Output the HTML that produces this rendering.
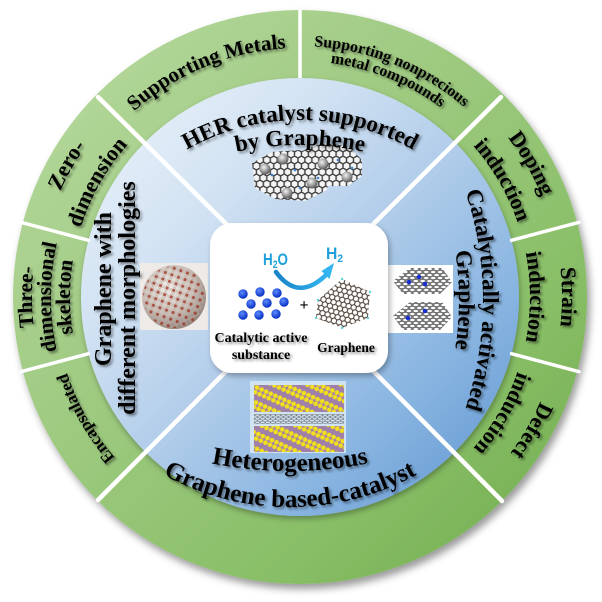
<!DOCTYPE html>
<html><head><meta charset="utf-8">
<style>
html,body{margin:0;padding:0;background:#fff;}
svg{display:block;}
.t{font-family:"Liberation Serif","Times New Roman",serif;font-weight:bold;fill:#000;}
</style></head><body>
<svg width="602" height="602" viewBox="0 0 602 602" xmlns="http://www.w3.org/2000/svg" xmlns:xlink="http://www.w3.org/1999/xlink">
<defs>
 <linearGradient id="gGreen" x1="0" y1="0" x2="1" y2="1">
  <stop offset="0" stop-color="#badca3"/>
  <stop offset="0.28" stop-color="#a7cf8b"/>
  <stop offset="0.73" stop-color="#88be66"/>
  <stop offset="1" stop-color="#6ea94b"/>
 </linearGradient>
 <linearGradient id="gBlue" x1="0" y1="0" x2="1" y2="1">
  <stop offset="0" stop-color="#edf4fb"/>
  <stop offset="0.28" stop-color="#d3e3f3"/>
  <stop offset="0.5" stop-color="#b2cdea"/>
  <stop offset="0.73" stop-color="#89b5e1"/>
  <stop offset="1" stop-color="#5d93cf"/>
 </linearGradient>
 <radialGradient id="gDot" cx="0.4" cy="0.35" r="0.6">
  <stop offset="0" stop-color="#5d8dff"/>
  <stop offset="1" stop-color="#0b33c4"/>
 </radialGradient>
 <radialGradient id="gBall" cx="0.4" cy="0.35" r="0.65">
  <stop offset="0" stop-color="#f2f2f2"/>
  <stop offset="0.6" stop-color="#9a9a9a"/>
  <stop offset="1" stop-color="#5a5a5a"/>
 </radialGradient>
 <radialGradient id="gSphere" cx="0.4" cy="0.35" r="0.7">
  <stop offset="0" stop-color="#f3eeea"/>
  <stop offset="0.6" stop-color="#cbbfb8"/>
  <stop offset="1" stop-color="#8a7b73"/>
 </radialGradient>
 <linearGradient id="gArrow" x1="0" y1="0" x2="1" y2="0">
  <stop offset="0" stop-color="#1784c8"/>
  <stop offset="1" stop-color="#33b4ee"/>
 </linearGradient>
 <filter id="ringShadow" x="-10%" y="-10%" width="125%" height="125%">
  <feDropShadow dx="3" dy="5" stdDeviation="4" flood-color="#000" flood-opacity="0.4"/>
 </filter>
 <filter id="blueShadow" x="-10%" y="-10%" width="125%" height="125%">
  <feDropShadow dx="1" dy="3" stdDeviation="3" flood-color="#000" flood-opacity="0.3"/>
 </filter>
 <filter id="boxShadow" x="-15%" y="-15%" width="135%" height="135%">
  <feDropShadow dx="2" dy="3" stdDeviation="3" flood-color="#000" flood-opacity="0.3"/>
 </filter>
 <filter id="ts" x="-5%" y="-5%" width="110%" height="110%">
  <feDropShadow dx="2" dy="2" stdDeviation="1.2" flood-color="#000" flood-opacity="0.45"/>
 </filter>
 <pattern id="hexD" width="6.93" height="12" patternUnits="userSpaceOnUse">
  <rect width="6.93" height="12" fill="#f4f4f4"/>
  <path d="M3.46,0 L6.93,2 L6.93,6 L3.46,8 L0,6 L0,2 Z M3.46,8 L3.46,12" fill="none" stroke="#404040" stroke-width="1.4"/>
 </pattern>
 <pattern id="hexC" width="5.2" height="9" patternUnits="userSpaceOnUse" patternTransform="rotate(15)">
  <path d="M2.6,0 L5.2,1.5 L5.2,4.5 L2.6,6 L0,4.5 L0,1.5 Z M2.6,6 L2.6,9" fill="none" stroke="#4d4035" stroke-width="1.1"/>
 </pattern>
 <pattern id="hexG" width="5.2" height="9" patternUnits="userSpaceOnUse" patternTransform="scale(1,0.4)">
  <path d="M2.6,0 L5.2,1.5 L5.2,4.5 L2.6,6 L0,4.5 L0,1.5 Z M2.6,6 L2.6,9" fill="none" stroke="#666" stroke-width="1"/>
 </pattern>
 <pattern id="hexR" width="6.93" height="12" patternUnits="userSpaceOnUse" patternTransform="scale(1,0.5)">
  <path d="M3.46,0 L6.93,2 L6.93,6 L3.46,8 L0,6 L0,2 Z M3.46,8 L3.46,12" fill="none" stroke="#6a6a6a" stroke-width="2.4"/>
  <circle cx="3.46" cy="0" r="1.6" fill="#777"/><circle cx="6.93" cy="2" r="1.6" fill="#777"/>
  <circle cx="6.93" cy="6" r="1.6" fill="#777"/><circle cx="3.46" cy="8" r="1.6" fill="#777"/>
  <circle cx="0" cy="6" r="1.6" fill="#777"/><circle cx="0" cy="2" r="1.6" fill="#777"/>
  <circle cx="3.46" cy="12" r="1.6" fill="#777"/>
 </pattern>
 <pattern id="ylw" width="14" height="5" patternUnits="userSpaceOnUse" patternTransform="rotate(-66)">
  <rect width="14" height="5" fill="#a07fa8"/>
  <circle cx="2.5" cy="2.5" r="2.3" fill="#f2e01c"/>
  <circle cx="11.5" cy="2.5" r="2.3" fill="#f2e01c"/>
 </pattern>
 <pattern id="red" width="7" height="7" patternUnits="userSpaceOnUse" patternTransform="rotate(20)">
  <path d="M0,3.5 L3.5,0 L7,3.5 L3.5,7 Z" fill="none" stroke="#b8aaa2" stroke-width="0.6"/>
  <circle cx="3.5" cy="3.5" r="1.6" fill="#a0402f"/>
 </pattern>
 <clipPath id="sphClip"><circle cx="174" cy="297" r="31"/></clipPath>
 <clipPath id="hetClip"><rect x="250" y="381" width="96" height="72"/></clipPath>

 <path id="a262" d="M41.98,251.50 A262,262 0 0 1 558.02,251.50"/>
 <path id="a230" d="M73.49,257.06 A230,230 0 0 1 526.51,257.06"/>
 <path id="a268" d="M36.07,250.46 A268,268 0 0 1 563.93,250.46"/>
 <path id="a249" d="M54.78,253.76 A249,249 0 0 1 545.22,253.76"/>
 <path id="a251" d="M52.81,253.41 A251,251 0 0 1 547.19,253.41"/>
 <path id="a236" d="M67.58,256.02 A236,236 0 0 1 532.42,256.02"/>
 <path id="a245" d="M58.72,254.46 A245,245 0 0 1 541.28,254.46"/>
 <path id="hTop" d="M100.81,235 A230,230 0 0 1 499.19,235"/>
 <path id="hBy" d="M150,185.2 A300,300 0 0 1 450,185.2"/>
 <path id="bHet" d="M90,417.4 A400,400 0 0 0 490,417.4"/>
 <path id="bGra" d="M88.5,413.1 A263,263 0 0 0 491.5,413.1"/>
 <path id="r343" d="M311.5,2.95 A343,343 0 0 1 311.5,597.05"/>
 <path id="r319" d="M299.5,23.74 A319,319 0 0 1 299.5,576.26"/>
</defs>

<!-- rings -->
<circle cx="300" cy="297" r="287" fill="url(#gGreen)" filter="url(#ringShadow)"/>
<circle cx="300" cy="297" r="219" fill="url(#gBlue)" filter="url(#blueShadow)"/>

<!-- separators -->
<g stroke="#fff" stroke-linecap="round">
 <line x1="300" y1="297" x2="98" y2="97" stroke-width="4.5"/>
 <line x1="300" y1="297" x2="501" y2="97" stroke-width="4.5"/>
 <line x1="300" y1="297" x2="98" y2="500" stroke-width="4.5"/>
 <line x1="300" y1="297" x2="502" y2="501" stroke-width="4.5"/>
 <line x1="300" y1="10" x2="300" y2="78" stroke-width="3.5" stroke-linecap="butt"/>
 <line x1="88.5" y1="240.3" x2="21" y2="222.3" stroke-width="3.5"/>
 <line x1="88.5" y1="353.7" x2="21" y2="371.7" stroke-width="3.5"/>
 <line x1="511.5" y1="240.3" x2="579" y2="222.3" stroke-width="3.5"/>
 <line x1="511.5" y1="353.7" x2="579" y2="371.7" stroke-width="3.5"/>
</g>

<!-- top graphene image -->
<g>
 <polygon points="252,163 272,152 300,150 318,160 330,172 327,190 305,201 275,199 255,188" fill="url(#hexD)"/>
 <polygon points="300,152 322,143 348,146 362,160 362,176 348,186 325,186 308,176" fill="url(#hexD)"/>
 <g fill="#3b7fd0">
  <circle cx="272" cy="175" r="1.3"/><circle cx="295" cy="170" r="1.3"/><circle cx="318" cy="178" r="1.3"/>
  <circle cx="338" cy="160" r="1.3"/><circle cx="300" cy="188" r="1.3"/><circle cx="352" cy="168" r="1.3"/>
 </g>
 <g fill="url(#gBall)">
  <circle cx="265" cy="169" r="5.5"/><circle cx="283" cy="159" r="5.5"/><circle cx="323" cy="164" r="5.5"/>
  <circle cx="347" cy="177" r="5.5"/><circle cx="312" cy="183" r="5.5"/><circle cx="287" cy="193" r="5.5"/>
 </g>
</g>

<!-- left sphere image -->
<rect x="140" y="263" width="68" height="67" fill="#eeeae7"/>
<circle cx="174" cy="297" r="32" fill="url(#gSphere)"/>
<g clip-path="url(#sphClip)"><rect x="140" y="263" width="68" height="67" fill="url(#red)" opacity="0.85"/></g>

<!-- right graphene image -->
<rect x="388" y="265" width="65" height="68" fill="#fff"/>
<polygon points="393,281 410,268 442,268 452,282 440,294 403,294" fill="url(#hexR)"/>
<polygon points="393,316 410,302 442,302 452,317 440,330 403,330" fill="url(#hexR)"/>
<g fill="#1a2fd0">
 <circle cx="409" cy="282" r="2.3"/><circle cx="419" cy="277" r="2.3"/><circle cx="425" cy="284" r="2.3"/>
 <circle cx="408" cy="318" r="2.3"/><circle cx="425" cy="311" r="2.3"/>
</g>

<!-- bottom heterostructure image -->
<rect x="250" y="381" width="96" height="72" fill="#cfe3f2"/>
<g clip-path="url(#hetClip)">
 <rect x="254" y="385" width="90" height="27" fill="url(#ylw)"/>
 <rect x="254" y="414" width="90" height="10" fill="url(#hexG)"/>
 <rect x="254" y="426" width="90" height="26" fill="url(#ylw)"/>
</g>

<!-- center box -->
<rect x="210" y="223" width="178" height="150" rx="22" ry="22" fill="#fff" filter="url(#boxShadow)"/>
<text x="263" y="265" font-family="'Liberation Sans Narrow','Liberation Sans',sans-serif" font-weight="bold" font-size="17" fill="#1ea0dc" textLength="25" lengthAdjust="spacingAndGlyphs">H<tspan font-size="11" dy="3">2</tspan><tspan dy="-3">O</tspan></text>
<text x="326" y="259" font-family="'Liberation Sans Narrow','Liberation Sans',sans-serif" font-weight="bold" font-size="17" fill="#1ea0dc" textLength="17" lengthAdjust="spacingAndGlyphs">H<tspan font-size="11" dy="3">2</tspan></text>
<path d="M276,272 Q298,302 326,275" fill="none" stroke="url(#gArrow)" stroke-width="4.5" stroke-linecap="round"/>
<polygon points="334,263 329.5,279 321.5,271" fill="#33b4ee"/>
<g fill="url(#gDot)">
 <circle cx="243" cy="294" r="4.7"/><circle cx="260" cy="292" r="4.7"/><circle cx="277" cy="293" r="4.7"/>
 <circle cx="251" cy="304" r="4.7"/><circle cx="267" cy="303" r="4.7"/><circle cx="284" cy="302" r="4.7"/>
 <circle cx="243" cy="315" r="4.7"/><circle cx="259" cy="315" r="4.7"/><circle cx="276" cy="314" r="4.7"/>
</g>
<text x="304" y="310" class="t" font-size="16" text-anchor="middle" font-weight="normal">+</text>
<polygon points="318,300 342,279 370,292 368,318 342,328 316,318" fill="url(#hexC)"/>
<g fill="#5fd3d6">
 <circle cx="342" cy="279" r="1.2"/><circle cx="370" cy="292" r="1.2"/><circle cx="368" cy="318" r="1.2"/>
 <circle cx="342" cy="328" r="1.2"/><circle cx="316" cy="318" r="1.2"/><circle cx="318" cy="300" r="1.2"/>
</g>

<!-- text -->
<g class="t" filter="url(#ts)">
 <text x="261" y="342" font-size="14" text-anchor="middle">Catalytic active</text>
 <text x="261" y="359" font-size="14" text-anchor="middle">substance</text>
 <text x="346" y="352" font-size="13.5" text-anchor="middle">Graphene</text>

 <!-- top ring -->
 <g transform="rotate(-22.5 300 297)">
  <text font-size="21"><textPath href="#a249" xlink:href="#a249" startOffset="50%" text-anchor="middle">Supporting Metals</textPath></text>
 </g>
 <g transform="rotate(22 300 297)">
  <text font-size="16"><textPath href="#a251" xlink:href="#a251" startOffset="50%" text-anchor="middle">Supporting nonprecious</textPath></text>
  <text font-size="16"><textPath href="#a236" xlink:href="#a236" startOffset="50%" text-anchor="middle">metal compounds</textPath></text>
 </g>
 <!-- left ring -->
 <g transform="rotate(-60.5 300 297)">
  <text font-size="22"><textPath href="#a262" xlink:href="#a262" startOffset="50%" text-anchor="middle">Zero-</textPath></text>
  <text font-size="22"><textPath href="#a230" xlink:href="#a230" startOffset="50%" text-anchor="middle">dimension</textPath></text>
 </g>
 <g transform="rotate(-90 300 297)">
  <text font-size="21"><textPath href="#a268" xlink:href="#a268" startOffset="50%" text-anchor="middle">Three-</textPath></text>
  <text font-size="21"><textPath href="#a249" xlink:href="#a249" startOffset="50%" text-anchor="middle">dimensional</textPath></text>
  <text font-size="21"><textPath href="#a230" xlink:href="#a230" startOffset="50%" text-anchor="middle">skeleton</textPath></text>
 </g>
 <g transform="rotate(-119.5 300 297)">
  <text font-size="17"><textPath href="#a245" xlink:href="#a245" startOffset="50%" text-anchor="middle">Encapsulated</textPath></text>
 </g>
 <!-- right ring -->
 <g transform="rotate(60 300 297)">
  <text font-size="22"><textPath href="#a262" xlink:href="#a262" startOffset="50%" text-anchor="middle">Doping</textPath></text>
  <text font-size="22"><textPath href="#a230" xlink:href="#a230" startOffset="50%" text-anchor="middle">induction</textPath></text>
 </g>
 <g transform="rotate(90 300 297)">
  <text font-size="22"><textPath href="#a262" xlink:href="#a262" startOffset="50%" text-anchor="middle">Strain</textPath></text>
  <text font-size="22"><textPath href="#a230" xlink:href="#a230" startOffset="50%" text-anchor="middle">induction</textPath></text>
 </g>
 <g transform="rotate(120 300 297)">
  <text font-size="22"><textPath href="#a262" xlink:href="#a262" startOffset="50%" text-anchor="middle">Defect</textPath></text>
  <text font-size="22"><textPath href="#a230" xlink:href="#a230" startOffset="50%" text-anchor="middle">induction</textPath></text>
 </g>

 <!-- inner top -->
 <text font-size="23"><textPath href="#hTop" xlink:href="#hTop" startOffset="50%" text-anchor="middle">HER catalyst supported</textPath></text>
 <text font-size="23"><textPath href="#hBy" xlink:href="#hBy" startOffset="50%" text-anchor="middle">by Graphene</textPath></text>

 <!-- inner bottom -->
 <text font-size="25"><textPath href="#bHet" xlink:href="#bHet" startOffset="50%" text-anchor="middle">Heterogeneous</textPath></text>
 <text font-size="25"><textPath href="#bGra" xlink:href="#bGra" startOffset="50%" text-anchor="middle">Graphene based-catalyst</textPath></text>

 <!-- inner left -->
 <text font-size="24" text-anchor="middle" transform="translate(111,289) rotate(-90)">Graphene with</text>
 <text font-size="24" text-anchor="middle" transform="translate(135,298) rotate(-90)">different morphologies</text>

 <!-- inner right -->
 <text font-size="23"><textPath href="#r343" xlink:href="#r343" startOffset="50%" text-anchor="middle">Catalytically activated</textPath></text>
 <text font-size="23"><textPath href="#r319" xlink:href="#r319" startOffset="50%" text-anchor="middle">Graphene</textPath></text>
</g>
</svg>
</body></html>
